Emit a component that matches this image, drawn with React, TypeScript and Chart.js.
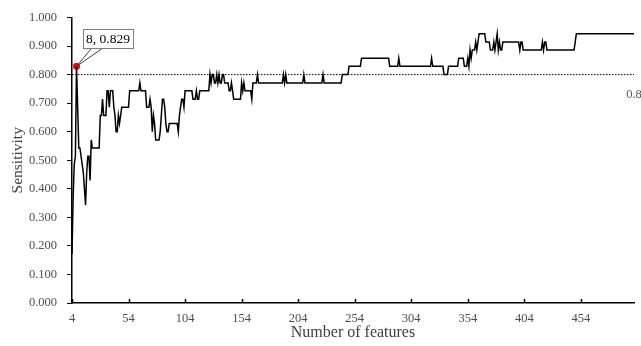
import { useEffect, useRef } from 'react';
import { Chart, registerables } from 'chart.js';

Chart.register(...registerables);

// Sensitivity per number of features, as runs: each run starts at runStart[i]
// and lasts until the next run starts (the last run lasts until lastFeature).
const runStart = [
  4, 5, 6, 7, 8, 9, 10, 12, 13, 14, 15, 16, 17, 18, 20, 21, 22, 29, 31, 32,
  35, 37, 38, 41, 42, 43, 45, 46, 47, 48, 55, 64, 65, 70, 73, 74, 75, 76, 77, 78,
  82, 83, 84, 86, 87, 88, 90, 98, 99, 100, 101, 103, 104, 111, 114, 115, 117, 126, 127, 128,
  130, 132, 133, 134, 135, 137, 139, 143, 145, 146, 147, 154, 155, 156, 157, 163, 164, 168, 169, 191,
  192, 193, 194, 209, 210, 226, 227, 243, 249, 260, 285, 293, 294, 322, 323, 333, 337, 346, 351, 354,
  355, 356, 357, 358, 361, 362, 363, 364, 370, 374, 377, 378, 379, 380, 381, 382, 383, 385, 400, 401,
  403, 420, 421, 422, 424, 449, 450,
];
const runValue = [
  0.171, 0.371, 0.486, 0.514, 0.829, 0.686, 0.543, 0.514, 0.486, 0.457, 0.4, 0.343, 0.457, 0.514, 0.429, 0.571, 0.543, 0.657, 0.714, 0.657,
  0.743, 0.686, 0.743, 0.686, 0.657, 0.6, 0.657, 0.629, 0.657, 0.686, 0.743, 0.771, 0.743, 0.686, 0.714, 0.686, 0.6, 0.657, 0.629, 0.571,
  0.6, 0.657, 0.714, 0.686, 0.629, 0.6, 0.629, 0.6, 0.657, 0.686, 0.714, 0.686, 0.743, 0.714, 0.743, 0.714, 0.743, 0.8, 0.771, 0.8,
  0.771, 0.8, 0.771, 0.8, 0.771, 0.8, 0.771, 0.743, 0.771, 0.743, 0.714, 0.771, 0.743, 0.771, 0.743, 0.714, 0.771, 0.8, 0.771, 0.8,
  0.771, 0.8, 0.771, 0.8, 0.771, 0.8, 0.771, 0.8, 0.829, 0.857, 0.829, 0.857, 0.829, 0.857, 0.829, 0.8, 0.829, 0.857, 0.829, 0.857,
  0.829, 0.886, 0.857, 0.886, 0.914, 0.886, 0.914, 0.943, 0.914, 0.886, 0.914, 0.886, 0.914, 0.943, 0.886, 0.914, 0.886, 0.914, 0.886, 0.914,
  0.886, 0.914, 0.886, 0.914, 0.886, 0.914, 0.943,
];
const firstFeature = 4;
const lastFeature = 501;

const xTickValues = [4, 54, 104, 154, 204, 254, 304, 354, 404, 454];
const yTickValues = [0, 0.1, 0.2, 0.3, 0.4, 0.5, 0.6, 0.7, 0.8, 0.9, 1.0];

const threshold = 0.8;
const thresholdLabel = '0.8';
const peakFeature = 8;
const peakValue = 0.829;
const peakLabel = '8, 0.829';

const xTitle = 'Number of features';
const yTitle = 'Sensitivity';

const FONT = "'Liberation Serif', 'Times New Roman', serif";

export default function App() {
  const ref = useRef<HTMLCanvasElement | null>(null);

  useEffect(() => {
    if (!ref.current) return;

    const linePoints: { x: number; y: number }[] = [];
    runStart.forEach((s, i) => {
      const e = i + 1 < runStart.length ? runStart[i + 1] - 1 : lastFeature;
      linePoints.push({ x: s, y: runValue[i] });
      if (e > s) linePoints.push({ x: e, y: runValue[i] });
    });

    const extras = {
      id: 'extras',
      afterDatasetsDraw(chart: any) {
        const { ctx, scales } = chart;
        const xs = scales.x;
        const ys = scales.y;
        ctx.save();
        // x tick marks pointing up into the plot
        ctx.strokeStyle = '#000';
        ctx.lineWidth = 1.5;
        const bottom = ys.getPixelForValue(0);
        xTickValues.forEach((v) => {
          const px = Math.round(xs.getPixelForValue(v)) + 0.5;
          ctx.beginPath();
          ctx.moveTo(px, bottom);
          ctx.lineTo(px, bottom - 4);
          ctx.stroke();
        });
        // threshold label
        ctx.fillStyle = '#595959';
        ctx.font = `12.5px ${FONT}`;
        ctx.textAlign = 'center';
        ctx.textBaseline = 'middle';
        ctx.fillText(thresholdLabel, xs.getPixelForValue(lastFeature), ys.getPixelForValue(threshold) + 20);
        // peak callout
        const px = xs.getPixelForValue(peakFeature);
        const py = ys.getPixelForValue(peakValue);
        const bx = px + 6;
        const by = py - 37;
        const bw = 50;
        const bh = 19;
        ctx.strokeStyle = '#404040';
        ctx.lineWidth = 1;
        ctx.beginPath();
        ctx.moveTo(bx + 9, by + bh);
        ctx.lineTo(px, py);
        ctx.lineTo(bx + 20, by + bh);
        ctx.stroke();
        ctx.fillStyle = '#fff';
        ctx.fillRect(bx, by, bw, bh);
        ctx.strokeStyle = '#7f7f7f';
        ctx.strokeRect(Math.round(bx) + 0.5, Math.round(by) + 0.5, bw, bh);
        ctx.fillStyle = '#000';
        ctx.font = `13.5px ${FONT}`;
        ctx.textAlign = 'center';
        ctx.textBaseline = 'middle';
        ctx.fillText(peakLabel, bx + bw / 2 + 0.5, by + bh / 2 + 1);
        ctx.restore();
      },
    };

    const chart = new Chart(ref.current, {
      type: 'line',
      data: {
        datasets: [
          {
            data: linePoints,
            borderColor: '#000',
            borderWidth: 1.5,
            pointRadius: 0,
            tension: 0,
            fill: false,
          },
          {
            data: [
              { x: firstFeature, y: threshold },
              { x: lastFeature, y: threshold },
            ],
            borderColor: '#000',
            borderWidth: 1,
            borderDash: [1.5, 1.5],
            pointRadius: 0,
            fill: false,
          },
          {
            data: [{ x: peakFeature, y: peakValue }],
            showLine: false,
            pointRadius: 3.5,
            pointBackgroundColor: '#ff0000',
            pointBorderColor: '#ff0000',
            pointBorderWidth: 0,
          },
        ],
      },
      options: {
        responsive: false,
        animation: false,
        events: [],
        layout: { padding: { top: 16, right: 7, left: 0, bottom: 0 } },
        plugins: { legend: { display: false }, tooltip: { enabled: false } },
        scales: {
          x: {
            type: 'linear',
            min: firstFeature,
            max: lastFeature,
            afterBuildTicks: (s: any) => {
              s.ticks = xTickValues.map((v) => ({ value: v }));
            },
            afterFit: (s: any) => {
              s.height = 43;
            },
            grid: { display: true, drawOnChartArea: false, drawTicks: false },
            border: { display: true, color: '#000', width: 1.5 },
            ticks: {
              autoSkip: false,
              maxRotation: 0,
              padding: 8,
              color: '#4d4d4d',
              font: { family: FONT, size: 12.5 },
              callback: (v: any) => String(v),
            },
            title: {
              display: true,
              text: xTitle,
              color: '#404040',
              font: { family: FONT, size: 16 },
              padding: { top: 0, bottom: 4 },
            },
          },
          y: {
            type: 'linear',
            min: 0,
            max: 1,
            afterBuildTicks: (s: any) => {
              s.ticks = yTickValues.map((v) => ({ value: v }));
            },
            afterFit: (s: any) => {
              s.width = 72;
            },
            grid: { display: true, drawOnChartArea: false, drawTicks: true, tickLength: 5, color: '#000', lineWidth: 1 },
            border: { display: true, color: '#000', width: 1.5 },
            ticks: {
              padding: 10,
              color: '#4d4d4d',
              font: { family: FONT, size: 12.5 },
              callback: (v: any) => Number(v).toFixed(3),
            },
            title: {
              display: true,
              text: yTitle,
              color: '#404040',
              font: { family: FONT, size: 15.5 },
              padding: { top: 9, bottom: 0 },
            },
          },
        },
      },
      plugins: [extras],
    });

    return () => chart.destroy();
  }, []);

  return (
    <div style={{ position: 'fixed', left: 0, top: 0, width: 641, height: 346, background: '#fff' }}>
      <canvas ref={ref} width={641} height={346} style={{ display: 'block' }} />
    </div>
  );
}
